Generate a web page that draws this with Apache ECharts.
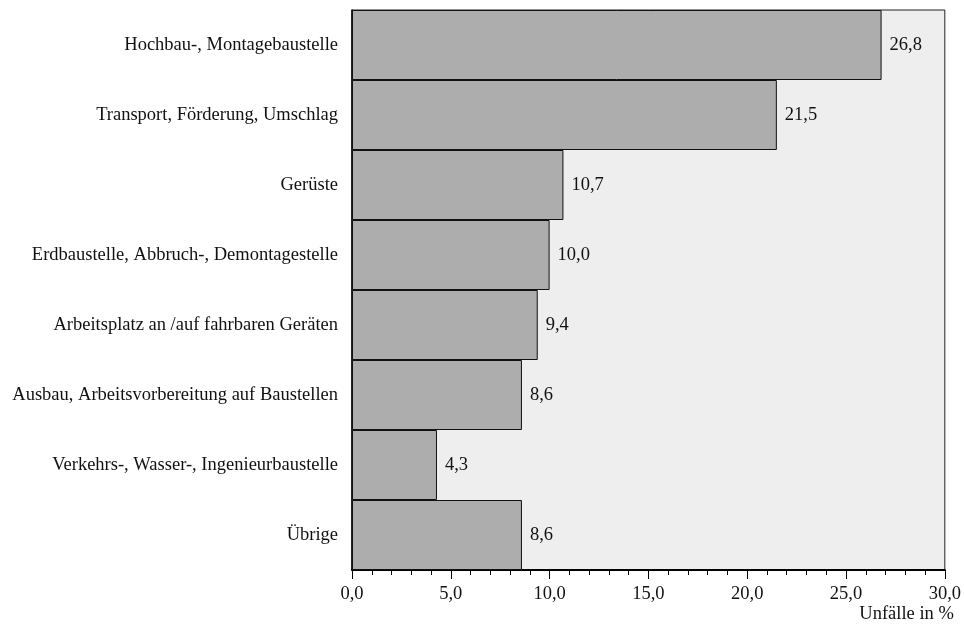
<!DOCTYPE html>
<html>
<head>
<meta charset="utf-8">
<script src="https://cdn.jsdelivr.net/npm/echarts@6/dist/echarts.min.js"></script>
<style>html,body{margin:0;padding:0;background:#fff}#c{width:964px;height:625px}</style>
</head>
<body>
<div id="c"></div>
<script>
var categories = [
  "Hochbau-, Montagebaustelle",
  "Transport, Förderung, Umschlag",
  "Gerüste",
  "Erdbaustelle, Abbruch-, Demontagestelle",
  "Arbeitsplatz an /auf fahrbaren Geräten",
  "Ausbau, Arbeitsvorbereitung auf Baustellen",
  "Verkehrs-, Wasser-, Ingenieurbaustelle",
  "Übrige"
];
var values = [26.8, 21.5, 10.7, 10.0, 9.4, 8.6, 4.3, 8.6];
var axisName = "Unfälle in %";

var FONT = '"Liberation Serif", "Times New Roman", serif';
var FS = 18.5;
function fmt(v) { return Number(v).toFixed(1).replace('.', ','); }

var chart = echarts.init(document.getElementById('c'));
chart.setOption({
  animation: false,
  grid: {
    left: 352, right: 18, top: 10, bottom: 55,
    show: true, backgroundColor: '#eeeeee', borderColor: '#222', borderWidth: 1
  },
  xAxis: {
    type: 'value', min: 0, max: 30, interval: 5,
    name: axisName, nameLocation: 'end', nameGap: 0,
    nameTextStyle: { fontFamily: FONT, fontSize: FS, color: '#111', align: 'right', verticalAlign: 'top', padding: [35, -9, 0, 0] },
    axisLine: { show: true, lineStyle: { color: '#000', width: 2 } },
    axisTick: { show: true, inside: false, length: 9, lineStyle: { color: '#000', width: 1 } },
    minorTick: { show: true, splitNumber: 5, length: 5, lineStyle: { color: '#000', width: 1 } },
    splitLine: { show: false },
    axisLabel: { fontFamily: FONT, fontSize: FS, color: '#111', margin: 15, formatter: fmt }
  },
  yAxis: {
    type: 'category', data: categories, inverse: true,
    axisLine: { show: true, lineStyle: { color: '#000', width: 1.5 } },
    axisTick: { show: false },
    axisLabel: { fontFamily: FONT, fontSize: FS, color: '#111', margin: 14 }
  },
  series: [{
    type: 'bar', data: values, barCategoryGap: 0,
    itemStyle: { color: '#adadad', borderColor: '#111', borderWidth: 1 },
    label: { show: true, position: 'right', distance: 8, fontFamily: FONT, fontSize: FS, color: '#111', formatter: function(p){ return fmt(p.value); } }
  }]
});
</script>
</body>
</html>
